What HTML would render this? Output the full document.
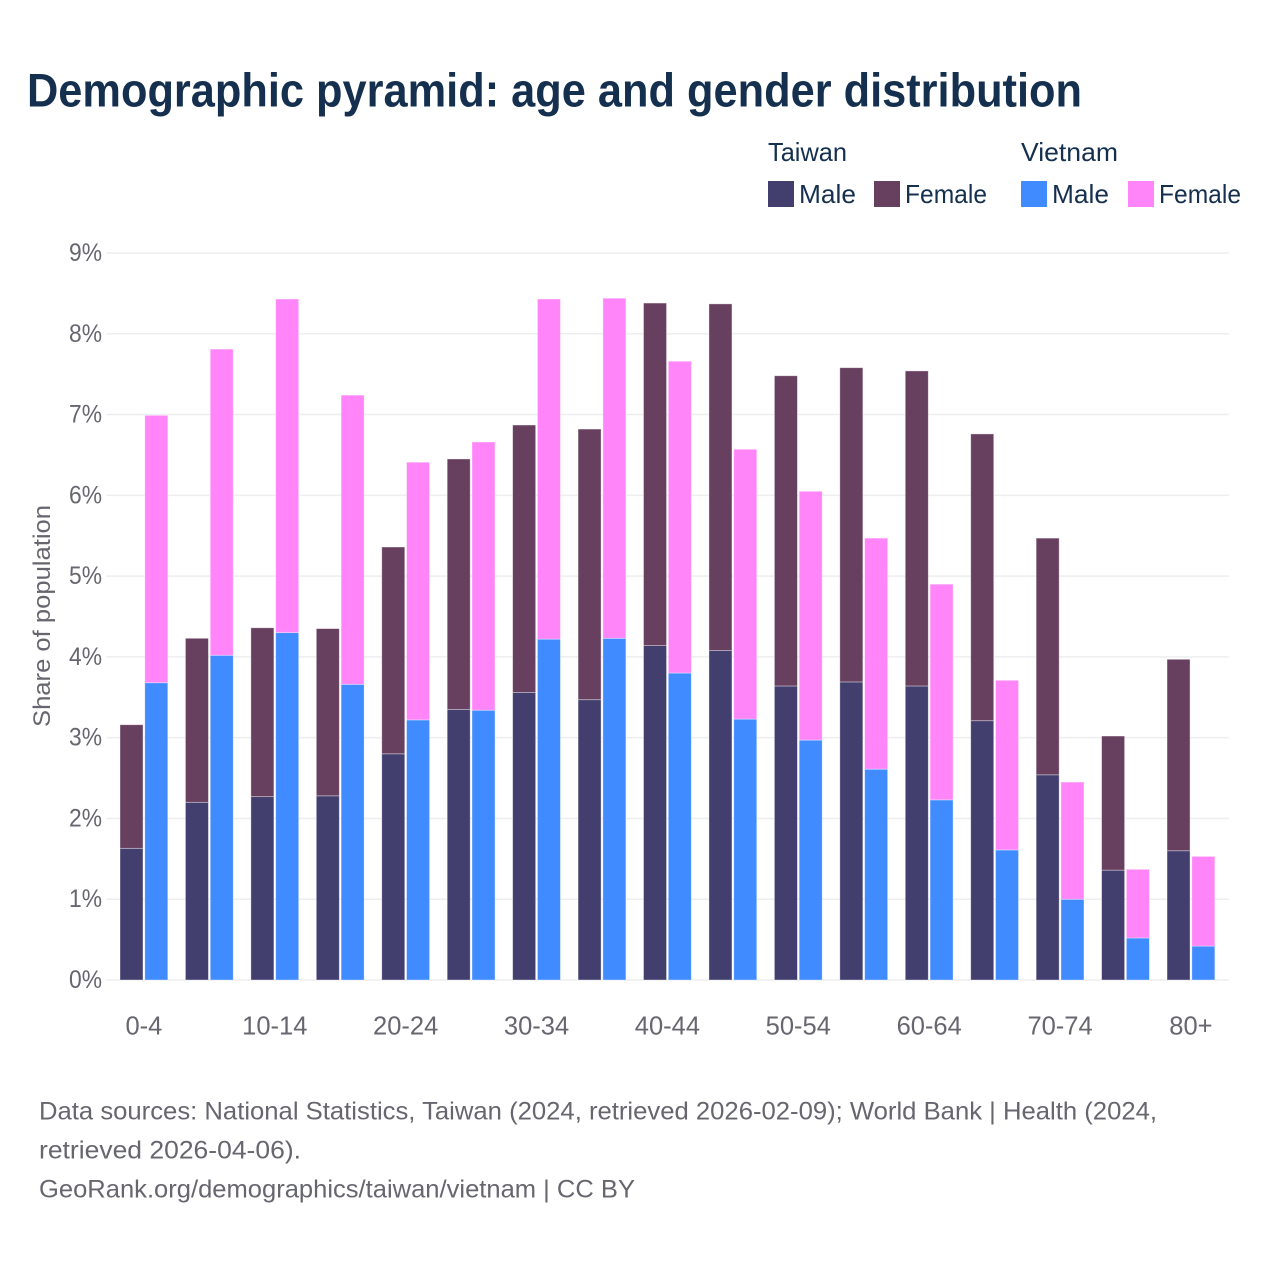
<!DOCTYPE html>
<html lang="en">
<head>
<meta charset="utf-8">
<title>Demographic pyramid: age and gender distribution</title>
<style>
  html, body { margin: 0; padding: 0; background: #fff; }
  svg { display: block; font-family: "Liberation Sans", sans-serif; }
</style>
</head>
<body>
<svg id="chart" xmlns="http://www.w3.org/2000/svg" width="1280" height="1280" viewBox="0 0 1280 1280">
  <rect x="0" y="0" width="1280" height="1280" fill="#ffffff"/>
  <text x="27" y="106.5" font-size="47" font-weight="700" fill="#15304f" textLength="1055" lengthAdjust="spacingAndGlyphs">Demographic pyramid: age and gender distribution</text>

  <g font-size="26" fill="#15304f">
    <text x="768" y="161" textLength="79" lengthAdjust="spacingAndGlyphs">Taiwan</text>
    <text x="1021" y="161" textLength="97" lengthAdjust="spacingAndGlyphs">Vietnam</text>
    <rect x="768" y="181" width="26" height="26" fill="#423f6f"/>
    <text x="799" y="203" textLength="57" lengthAdjust="spacingAndGlyphs">Male</text>
    <rect x="874" y="181" width="26" height="26" fill="#68405f"/>
    <text x="905" y="203" textLength="82" lengthAdjust="spacingAndGlyphs">Female</text>
    <rect x="1021" y="181" width="26" height="26" fill="#3f8bff"/>
    <text x="1052" y="203" textLength="57" lengthAdjust="spacingAndGlyphs">Male</text>
    <rect x="1128" y="181" width="26" height="26" fill="#ff85f8"/>
    <text x="1159" y="203" textLength="82" lengthAdjust="spacingAndGlyphs">Female</text>
  </g>

  <g id="grid"></g>
  <g id="yticks" font-size="25" fill="#66666f" text-anchor="end"></g>
  <text transform="translate(50 616) rotate(-90)" text-anchor="middle" font-size="24" fill="#66666f" textLength="222" lengthAdjust="spacingAndGlyphs">Share of population</text>
  <g id="bars"></g>
  <g id="xticks" font-size="25.5" fill="#66666f" text-anchor="middle"></g>

  <g font-size="25" fill="#66666f">
    <text x="39" y="1119.5" textLength="1118" lengthAdjust="spacingAndGlyphs">Data sources: National Statistics, Taiwan (2024, retrieved 2026-02-09); World Bank | Health (2024,</text>
    <text x="39" y="1158.5" textLength="262" lengthAdjust="spacingAndGlyphs">retrieved 2026-04-06).</text>
    <text x="39" y="1197.5" textLength="596" lengthAdjust="spacingAndGlyphs">GeoRank.org/demographics/taiwan/vietnam | CC BY</text>
  </g>
</svg>
<script>
const categories = ["0-4","5-9","10-14","15-19","20-24","25-29","30-34","35-39","40-44","45-49","50-54","55-59","60-64","65-69","70-74","75-79","80+"];
const taiwanMale = [1.63,2.20,2.27,2.28,2.80,3.35,3.56,3.47,4.14,4.08,3.64,3.69,3.64,3.21,2.54,1.36,1.60];
const taiwanFemale = [1.53,2.03,2.09,2.07,2.56,3.10,3.31,3.35,4.24,4.29,3.84,3.89,3.90,3.55,2.93,1.66,2.37];
const vietnamMale = [3.68,4.02,4.30,3.66,3.22,3.34,4.22,4.23,3.80,3.23,2.97,2.61,2.23,1.61,1.00,0.52,0.42];
const vietnamFemale = [3.31,3.79,4.13,3.58,3.19,3.32,4.21,4.21,3.86,3.34,3.08,2.86,2.67,2.10,1.45,0.85,1.11];
const yTickValues = [0,1,2,3,4,5,6,7,8,9];

const NS = "http://www.w3.org/2000/svg";
const yBase = 980, yPerUnit = 80.78;
const xFirst = 143.9, xStep = 65.44;
const barWidth = 23, barOffset = 12.4;
const yScale = v => yBase - v * yPerUnit;
const xScale = i => xFirst + i * xStep;

const gridGroup = document.getElementById("grid");
const yTickGroup = document.getElementById("yticks");
yTickValues.forEach(v => {
  const line = document.createElementNS(NS, "line");
  line.setAttribute("x1", 106.5);
  line.setAttribute("x2", 1229);
  line.setAttribute("y1", yScale(v));
  line.setAttribute("y2", yScale(v));
  line.setAttribute("stroke", "#eeeef0");
  line.setAttribute("stroke-width", 1.5);
  
  
  gridGroup.appendChild(line);

  const label = document.createElementNS(NS, "text");
  label.setAttribute("x", 102);
  label.setAttribute("y", yScale(v) + 8);
  label.setAttribute("textLength", 33);
  label.setAttribute("lengthAdjust", "spacingAndGlyphs");
  label.textContent = v + "%";
  
  
  yTickGroup.appendChild(label);
});

const barGroup = document.getElementById("bars");
function addBar(cx, bottomValue, value, color) {
  const rect = document.createElementNS(NS, "rect");
  rect.setAttribute("x", cx - barWidth / 2);
  rect.setAttribute("y", yScale(bottomValue + value));
  rect.setAttribute("width", barWidth);
  rect.setAttribute("height", yScale(bottomValue) - yScale(bottomValue + value));
  rect.setAttribute("fill", color);
  rect.setAttribute("stroke", "#ffffff");
  rect.setAttribute("stroke-opacity", "0.45");
  rect.setAttribute("stroke-width", "0.8");
  return rect;
}
categories.forEach((cat, i) => {
  const c = xScale(i);
  const tm = addBar(c - barOffset, 0, taiwanMale[i], "#423f6f");
  
  
  barGroup.appendChild(tm);

  const tf = addBar(c - barOffset, taiwanMale[i], taiwanFemale[i], "#68405f");
  
  
  barGroup.appendChild(tf);

  const vm = addBar(c + barOffset, 0, vietnamMale[i], "#3f8bff");
  
  
  barGroup.appendChild(vm);

  const vf = addBar(c + barOffset, vietnamMale[i], vietnamFemale[i], "#ff85f8");
  
  
  barGroup.appendChild(vf);
});

const xTickGroup = document.getElementById("xticks");
categories.forEach((cat, i) => {
  if (i % 2 !== 0) return;
  const label = document.createElementNS(NS, "text");
  label.setAttribute("x", xScale(i));
  label.setAttribute("y", 1034.5);
  label.textContent = cat;
  
  
  xTickGroup.appendChild(label);
});
</script>
</body>
</html>
